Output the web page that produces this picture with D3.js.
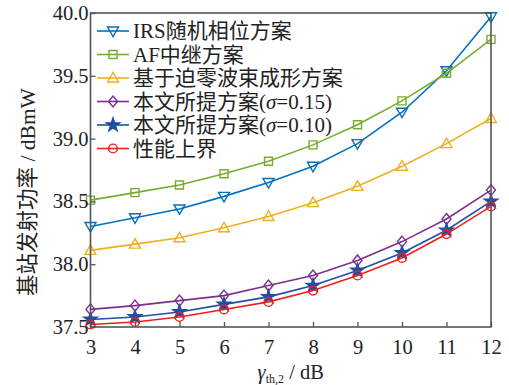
<!DOCTYPE html>
<html><head><meta charset="utf-8">
<script src="https://cdn.jsdelivr.net/npm/d3@7"></script>
<style>body{margin:0;background:#fff}svg{display:block}</style>
</head><body><svg id="c" width="509" height="385"></svg>
<script>
const xValues = [3,4,5,6,7,8,9,10,11,12];
const seriesNames = ["IRS随机相位方案","AF中继方案","基于迫零波束成形方案","本文所提方案(σ=0.15)","本文所提方案(σ=0.10)","性能上界"];
const irs    = [38.30,38.37,38.44,38.54,38.65,38.78,38.96,39.21,39.54,39.97];
const af     = [38.51,38.57,38.63,38.72,38.82,38.95,39.11,39.30,39.52,39.79];
const zf     = [38.11,38.16,38.21,38.29,38.38,38.49,38.62,38.78,38.96,39.16];
const prop15 = [37.64,37.67,37.71,37.75,37.83,37.91,38.03,38.18,38.36,38.59];
const prop10 = [37.56,37.58,37.62,37.68,37.74,37.83,37.95,38.09,38.27,38.50];
const upper  = [37.52,37.54,37.58,37.64,37.70,37.79,37.91,38.05,38.24,38.46];
const yTicks = [37.5,38.0,38.5,39.0,39.5,40.0];

const colors = ["#0072BD","#77AC30","#EDB120","#7E2F8E","#1F4FA8","#F0201A"];
const markers = ["tridown","square","triup","diamond","star","circle"];
const series = [irs,af,zf,prop15,prop10,upper];

const svg = d3.select("#c");
const L=90.5,R=491,T=13,B=327;
const x = d3.scaleLinear().domain([3,12]).range([L,R]);
const y = d3.scaleLinear().domain([37.5,40]).range([B,T]);
const serif = "'Liberation Serif','Times New Roman',serif";
const cjk = "'Liberation Serif','Noto Sans CJK SC',serif";

function markerPath(type){
  switch(type){
    case "tridown": return "M-5.5,-4L5.5,-4L0,5.5Z";
    case "triup": return "M-5.5,4L5.5,4L0,-5.5Z";
    case "square": return "M-4,-4H4V4H-4Z";
    case "diamond": return "M0,-5.5L4.5,0L0,5.5L-4.5,0Z";
    case "circle": return d3.symbol(d3.symbolCircle, 60)();
    case "star": return d3.symbol(d3.symbolStar, 55)();
  }
}

const line = d3.line().x((d,i)=>x(xValues[i])).y(d=>y(d));
series.forEach((s,k)=>{
  const g = svg.append("g");
  g.append("path").attr("d",line(s)).attr("fill","none").attr("stroke",colors[k]).attr("stroke-width",1.6);
  g.selectAll("path.m").data(s).enter().append("path").attr("class","m")
    .attr("transform",(d,i)=>`translate(${x(xValues[i])},${y(d)})`)
    .attr("d",markerPath(markers[k]))
    .attr("fill",markers[k]==="star"?colors[k]:"none")
    .attr("stroke",colors[k]).attr("stroke-width",1.4);
});

// axes
const axisColor="#555";
const gx = svg.append("g").attr("transform",`translate(0,${B})`)
  .call(d3.axisBottom(x).tickValues(xValues).tickSize(-5).tickPadding(12).tickFormat(d3.format("d")));
const gy = svg.append("g").attr("transform",`translate(${L},0)`)
  .call(d3.axisLeft(y).tickValues(yTicks).tickSize(-5).tickPadding(2).tickFormat(d3.format(".1f")));
[gx,gy].forEach(g=>{
  g.select(".domain").remove();
  g.selectAll(".tick line").attr("stroke",axisColor).attr("stroke-width",1.3);
  g.selectAll(".tick text").attr("fill","#222").style("font-family",serif).style("font-size","20.5px");
});
svg.append("rect").attr("x",L).attr("y",T).attr("width",R-L).attr("height",B-T)
  .attr("fill","none").attr("stroke",axisColor).attr("stroke-width",1.6);

// labels
const xl = svg.append("text").attr("x",(L+R)/2).attr("y",379).attr("text-anchor","middle")
  .style("font-family",serif).style("font-size","20.5px").attr("fill","#222");
xl.append("tspan").style("font-style","italic").text("γ");
xl.append("tspan").attr("dy",4).style("font-size","12px").text("th,2");
xl.append("tspan").attr("dy",-4).text(" / dB");

svg.append("text").attr("transform",`translate(35,192) rotate(-90)`).attr("text-anchor","middle")
  .style("font-family",cjk).style("font-size","21.5px").attr("fill","#222").text("基站发射功率 / dBmW");

// legend
seriesNames.forEach((n,k)=>{
  const yy = 31 + k*23.5;
  const g = svg.append("g");
  g.append("line").attr("x1",97).attr("x2",129).attr("y1",yy).attr("y2",yy).attr("stroke",colors[k]).attr("stroke-width",1.6);
  g.append("path").attr("transform",`translate(113,${yy})`).attr("d",markerPath(markers[k]))
    .attr("fill",markers[k]==="star"?colors[k]:"none").attr("stroke",colors[k]).attr("stroke-width",1.4);
  const t = g.append("text").attr("x",133).attr("y",yy+7).style("font-family",cjk).style("font-size","21px").attr("fill","#222");
  const m = n.match(/^(.*)\(σ=(.*)\)$/);
  if(m){
    t.append("tspan").text(m[1]+"(");
    t.append("tspan").style("font-style","italic").style("font-family",serif).text("σ");
    t.append("tspan").text("="+m[2]+")");
  } else t.text(n);
});
</script></body></html>
